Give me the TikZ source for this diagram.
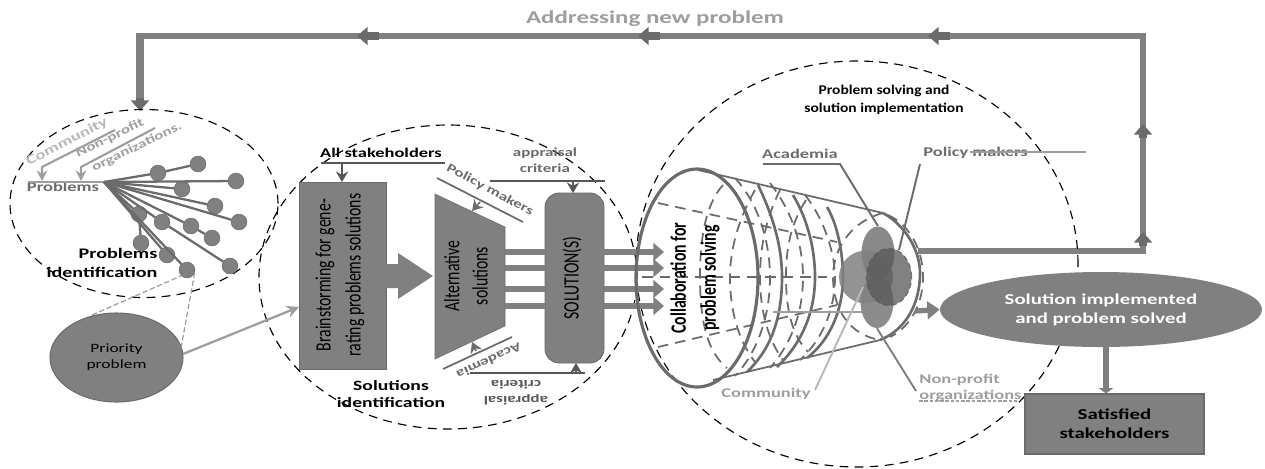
\documentclass[tikz,border=0pt]{standalone}
\usepackage{fontspec}
\setmainfont{Carlito}
\newfontfamily\wdf[FakeStretch=1.38]{Carlito}
\newfontfamily\wdg[FakeStretch=1.16]{Carlito}
\newfontfamily\nrw[FakeStretch=0.72]{Carlito}
\usetikzlibrary{arrows.meta,shapes.geometric,positioning}
\definecolor{g1}{gray}{0.5}
\definecolor{g2}{gray}{0.42}
\definecolor{g3}{gray}{0.34}
\definecolor{g4}{gray}{0.62}
\definecolor{g5}{gray}{0.72}
\tikzset{
 zone/.style={draw=black,line width=0.65pt,dash pattern=on 5pt off 3.6pt,ellipse,minimum width=#1},
 lab/.style={font=\wdf\bfseries\fontsize{7.6}{9.5}\selectfont,align=center,inner sep=0pt},
 slab/.style={font=\wdf\bfseries\fontsize{7}{9}\selectfont,align=center,inner sep=0pt},
 vlab/.style={font=\nrw\fontsize{12.5}{12.5}\selectfont,align=center,inner sep=0pt,rotate=90,text=black},
 tree/.style={draw=g2,line width=1.3pt},
 dot/.style={circle,fill=g1,draw=g2,line width=0.3pt,minimum width=9pt,inner sep=0pt},
 big/.style={draw=g1,line width=3.3pt,line join=miter},
 flow/.style={draw=g1,line width=2.9pt,-{Triangle[length=6pt,width=10pt]}},
 head/.style={-{Triangle[length=6pt,width=10pt]},draw=g2,line width=4pt},
 cone/.style={draw=g2,line width=1pt},
 conebold/.style={draw=g2,line width=1.5pt},
 cdash/.style={draw=g2,line width=1pt,dash pattern=on 6pt off 4pt},
}
\begin{document}
\begin{tikzpicture}[x=0.02cm,y=-0.02cm]
\useasboundingbox (0,0) rectangle (1265,468);
\coordinate (fbS) at (918,251);
\coordinate (fbA) at (1143,251);
\coordinate (fbB) at (1143,36);
\coordinate (fbC) at (140,36);
\coordinate (fbT) at (140,33);
\coordinate (fbD) at (140,102);
\draw[big] (fbS) -- (fbA) -- (fbB) -- (fbC);
\draw[big,line width=4.4pt] (fbT) -- (fbD);
\coordinate (u1a) at (1143,246); \coordinate (u1b) at (1143,232);
\coordinate (u2a) at (1143,138); \coordinate (u2b) at (1143,124);
\coordinate (l1a) at (950,36); \coordinate (l1b) at (928,36);
\coordinate (l2a) at (660,36); \coordinate (l2b) at (638,36);
\coordinate (l3a) at (379,36); \coordinate (l3b) at (357,36);
\coordinate (d1a) at (140,98); \coordinate (d1b) at (140,111);
\foreach \p/\q in {u1a/u1b,u2a/u2b,l1a/l1b,l2a/l2b,l3a/l3b,d1a/d1b}{\draw[head] (\p) -- (\q);}
\node[lab,text=g4,font=\wdf\bfseries\fontsize{10.3}{11}\selectfont] (addr) at (655,19) {Addressing new problem};

% zones
\node[zone=268*0.02cm,minimum height=188*0.02cm,inner sep=0pt] (z1) at (144,203.5) {};
\node[zone=378*0.02cm,minimum height=304*0.02cm,inner sep=0pt] (z2) at (448,277) {};
\node[zone=442*0.02cm,minimum height=406*0.02cm,inner sep=0pt] (z3) at (857,264) {};

% Problems tree
\node[lab,text=g5,rotate=27] (tcom) at (67,142) {Community};
\node[slab,text=g4,rotate=26] (tnp) at (110,138) {Non-profit};
\node[slab,text=g4,rotate=26] (torg) at (137,147) {organizations.};
\node[lab,text=g2] (tprob) at (63,187) {Problems};
\coordinate (hub) at (104,182);
\coordinate (pl) at (28,182);
\draw[draw=g4,line width=1.2pt] (pl) -- (hub);
\coordinate (c1) at (42,181); \coordinate (c1b) at (42,167); \coordinate (c1c) at (115,130);
\coordinate (n1) at (81,181); \coordinate (n1b) at (81,167); \coordinate (n1c) at (155,128);
\draw[draw=g4,line width=1.2pt,-{Stealth[length=6pt,width=6pt]}] (c1c) -- (c1b) -- (c1);
\draw[draw=g4,line width=1.2pt,-{Stealth[length=6pt,width=6pt]}] (n1c) -- (n1b) -- (n1);
\foreach \n/\x/\y in {a/158/173,b/198/164,c/236/181,d/182/189,e/215/206,f/239/222,g/139/214,h/162/222,i/191/226,j/212/238,k/141/243,l/167/255,m/187/270,n/230/266}{
 \node[dot] (\n) at (\x,\y) {};
}
\draw[tree] (hub) -- (a); \draw[tree] (a) -- (b);
\draw[tree] (hub) -- (c); \draw[tree] (hub) -- (d); \draw[tree] (hub) -- (e); \draw[tree] (hub) -- (f);
\draw[tree] (hub) -- (g); \draw[tree] (hub) -- (h); \draw[tree] (hub) -- (i); \draw[tree] (i) -- (j);
\draw[tree] (h) -- (n); \draw[tree] (g) -- (k); \draw[tree] (hub) -- (l); \draw[tree] (hub) -- (m);
\node[lab,text=black,font=\wdf\bfseries\fontsize{8.3}{10}\selectfont] (pi1) at (118,253) {Problems};
\node[lab,text=black,font=\wdf\bfseries\fontsize{8.3}{10}\selectfont] (pi2) at (102,272) {identification};

% Priority
\node[ellipse,fill=g1,draw=g2,line width=0.6pt,minimum width=133*0.02cm,minimum height=89*0.02cm,inner sep=0pt,font=\wdf\fontsize{7.2}{9}\selectfont,align=center] (prio) at (116.5,357.5) {Priority\\problem};
\coordinate (pd1) at (92,315); \coordinate (pd2) at (181,348);
\draw[g4,line width=0.7pt,dash pattern=on 3pt off 1.5pt] (pd1) -- (m.south west);
\draw[g4,line width=0.7pt,dash pattern=on 3pt off 1.5pt] (pd2) -- (m.east);
\coordinate (bl) at (299,307);
\coordinate (pe) at (183,354);
\draw[draw=g4,line width=1.3pt,-{Stealth[length=7pt,width=7pt]}] (pe) -- (bl);

% Solutions identification
\node[rectangle,fill=g1,draw=g2,line width=0.5pt,minimum width=87*0.02cm,minimum height=187*0.02cm,inner sep=0pt] (brain) at (342.5,275.5) {};
\node[vlab,font=\nrw\fontsize{12.5}{17}\selectfont] at (340,275) {Brainstorming for gene-\\rating problems solutions};
\fill[g1] (385,264) coordinate (ar1) -- (398,264) -- (398,253) -- (433,276) -- (398,299) -- (398,288) -- (385,288) -- cycle;
\fill[g1,draw=g2,line width=0.3pt] (435,194) coordinate (t1) -- (505,227) -- (505,326) -- (435,359) -- cycle;
\node[vlab,font=\nrw\fontsize{12.5}{16}\selectfont] (alt) at (466,276) {Alternative\\solutions};
\node[rectangle,rounded corners=8pt,fill=g1,draw=g2,line width=0.5pt,minimum width=59*0.02cm,minimum height=170*0.02cm,inner sep=0pt] (sol) at (574.5,278) {};
\node[vlab] at (572,278) {SOLUTION(S)};
\foreach \y in {252,268,289,306}{
 \fill[g1] (505,\y-3) rectangle (545,\y+3);
 \coordinate (fs\y) at (604,\y); \coordinate (fe\y) at (664,\y);
 \draw[flow,draw=g1] (fs\y) -- (fe\y);
}
\node[lab,text=black] (allst) at (381,153) {All stakeholders};
\coordinate (as1) at (321,163); \coordinate (as2) at (445,163); \coordinate (as3) at (342,163); \coordinate (as4) at (342,182);
\draw[g3,line width=0.9pt] (as1) -- (as2);
\draw[g3,line width=1.1pt,-{Stealth[length=6pt,width=7pt]}] (as3) -- (as4);
\node[slab,text=g2,rotate=-28] (pm1) at (490,190) {Policy makers};
\coordinate (pma) at (437,178); \coordinate (pmb) at (523,222); \coordinate (pmc) at (480,202); \coordinate (pmd) at (472,211);
\draw[g2,line width=1pt] (pma) -- (pmb);
\draw[g2,line width=1pt,-{Stealth[length=6pt,width=7pt]}] (pmc) -- (pmd);
\node[slab,text=g2] (ap1) at (545,160.5) {appraisal\\[0pt]criteria};
\coordinate (apa) at (490,181); \coordinate (apb) at (605,181); \coordinate (apc) at (573,181); \coordinate (apd) at (573,193);
\draw[g3,line width=1pt] (apa) -- (apb);
\draw[g3,line width=1.1pt,-{Stealth[length=6pt,width=7pt]}] (apc) -- (apd);
\node[slab,text=g2,rotate=205] (ac1) at (489,361) {Academia};
\coordinate (aca) at (443,369); \coordinate (acb) at (512,337); \coordinate (acc) at (476,351); \coordinate (acd) at (472,342);
\draw[g2,line width=1pt] (aca) -- (acb);
\draw[g2,line width=1pt,-{Stealth[length=6pt,width=7pt]}] (acc) -- (acd);
\node[slab,text=g3,rotate=180] (ap2) at (516,393) {appraisal\\[0pt]criteria};
\coordinate (bpa) at (470,373); \coordinate (bpb) at (585,373); \coordinate (bpc) at (576,373); \coordinate (bpd) at (576,363);
\draw[g3,line width=1pt] (bpa) -- (bpb);
\draw[g3,line width=1.1pt,-{Stealth[length=6pt,width=7pt]}] (bpc) -- (bpd);
\node[lab,text=black,font=\wdf\bfseries\fontsize{8.1}{10}\selectfont] (si1) at (391,386) {Solutions};
\node[lab,text=black,font=\wdf\bfseries\fontsize{8.1}{10}\selectfont] (si2) at (391,403) {identification};

% Cone
\draw[cdash] (723,185) .. controls (705,205) and (700,240) .. (700,277) .. controls (700,315) and (705,350) .. (727,368);
\draw[cdash] (755,190) .. controls (738,220) and (730,250) .. (730,277) .. controls (730,310) and (738,340) .. (755,362);
\draw[cdash] (780,190) .. controls (765,220) and (760,250) .. (760,277) .. controls (760,310) and (768,340) .. (783,360);
\draw[cdash] (806,200) .. controls (790,225) and (786,250) .. (786,277) .. controls (786,310) and (792,335) .. (808,352);
\draw[cdash] (883,213) .. controls (855,220) and (833,245) .. (833,277) .. controls (833,310) and (850,335) .. (880,340);
\draw[cdash] (735,178) .. controls (760,205) and (770,245) .. (770,277) .. controls (770,320) and (755,355) .. (735,376);
\draw[cdash] (770,183) .. controls (795,215) and (803,250) .. (803,277) .. controls (803,315) and (790,345) .. (770,368);
\draw[cdash] (805,195) .. controls (825,220) and (835,255) .. (835,277) .. controls (835,310) and (822,340) .. (800,360);
\draw[conebold,line width=1.8pt] (697,278) ellipse (61 and 109);
\draw[conebold] (758,185) .. controls (775,220) and (782,250) .. (782,277) .. controls (782,320) and (770,350) .. (747,372);
\draw[conebold] (793,195) .. controls (808,220) and (815,250) .. (815,277) .. controls (815,315) and (800,345) .. (777,367);
\draw[conebold] (827,207) .. controls (838,225) and (843,255) .. (843,277) .. controls (843,310) and (830,340) .. (807,358);
\draw[conebold] (883,213) .. controls (905,225) and (920,250) .. (920,273) .. controls (920,305) and (905,330) .. (880,340);
\draw[cdash] (888,215) .. controls (910,225) and (923,250) .. (923,277) .. controls (923,310) and (905,330) .. (890,337);
\draw[cone] (698,170) -- (883,213);
\draw[cone] (713,380) -- (880,340);
\draw[cdash] (658,203) -- (837,242);
\draw[cdash] (658,347) -- (837,305);
\draw[cdash] (642,277) -- (827,277);
\draw[cone,draw=g4] (773,312) -- (863,312);
% stakeholder ellipses
\node[ellipse,fill=g2,opacity=.8,minimum width=33*0.02cm,minimum height=53*0.02cm,inner sep=0pt] (eA) at (878,253) {};
\node[ellipse,fill=g1,opacity=.9,minimum width=33*0.02cm,minimum height=52*0.02cm,inner sep=0pt] (eN) at (877,302) {};
\node[ellipse,fill=g1,opacity=.85,minimum width=54*0.02cm,minimum height=53*0.02cm,inner sep=0pt] (eC) at (866,277) {};
\node[ellipse,fill=g3,opacity=.75,draw=g3,dash pattern=on 3pt off 2pt,line width=.7pt,minimum width=45*0.02cm,minimum height=57*0.02cm,inner sep=0pt] (eP) at (889,277) {};
\node[lab,text=g2] (tA) at (800,154) {Academia};
\coordinate (tA1) at (763,164); \coordinate (tA2) at (840,164);
\draw[draw=g2,line width=1.1pt] (tA1) -- (tA2) -- (eA.north);
\node[lab,text=g2,anchor=west] (tP) at (923,153) {Policy makers};
\coordinate (tP1) at (970,152); \coordinate (tP2) at (1086,152); \coordinate (tP3) at (920,164); \coordinate (tP4) at (899,250);
\draw[draw=g4,line width=1pt] (tP1) -- (tP2);
\draw[draw=g2,line width=1.1pt] (tP3) -- (tP4);
\node[lab,text=g4] (tC) at (766,394) {Community};
\coordinate (tC1) at (815,390); \coordinate (tC2) at (863,287);
\draw[draw=g5,line width=1.1pt] (tC1) -- (tC2);
\node[lab,text=g4,anchor=west,align=left,font=\wdf\bfseries\fontsize{7.6}{9}\selectfont] (tN) at (919,388) {Non-profit\\organizations};
\coordinate (tN1) at (916,391); \coordinate (tN2) at (919,401); \coordinate (tN3) at (1018,401);
\draw[draw=g1,line width=1.1pt] (eN.south) -- (tN1);
\draw[draw=g4,line width=.9pt,dash pattern=on 2pt off 1pt] (tN2) -- (tN3);
\node[lab,text=black,font=\wdg\bfseries\fontsize{7.6}{10.2}\selectfont] (ps) at (884,100) {Problem solving and\\solution implementation};
\node[vlab,font=\nrw\bfseries\fontsize{12.5}{17}\selectfont] (coll) at (695,278) {Collaboration for\\problem solving};

% Solution implemented
\node[ellipse,fill=g1,minimum width=322*0.02cm,minimum height=75*0.02cm,inner sep=0pt,font=\wdf\bfseries\fontsize{8.6}{10.8}\selectfont,align=center,text=white] (impl) at (1101,309.5) {Solution implemented\\and problem solved};
\coordinate (ia) at (915,311);
\draw[draw=g1,line width=3pt,-{Triangle[length=7pt,width=10pt]}] (ia) -- (impl.west);
\node[rectangle,fill=g1,draw=g2,line width=0.6pt,minimum width=179*0.02cm,minimum height=60*0.02cm,inner sep=0pt,font=\wdf\bfseries\fontsize{8.6}{11}\selectfont,align=center,text=black] (sat) at (1114.5,424) {Satisfied\\stakeholders};
\coordinate (dw) at (1106,346);
\draw[draw=g1,line width=3.6pt,-{Triangle[length=3pt,width=8pt]}] (dw) -- (dw |- sat.north);
\end{tikzpicture}
\end{document}
